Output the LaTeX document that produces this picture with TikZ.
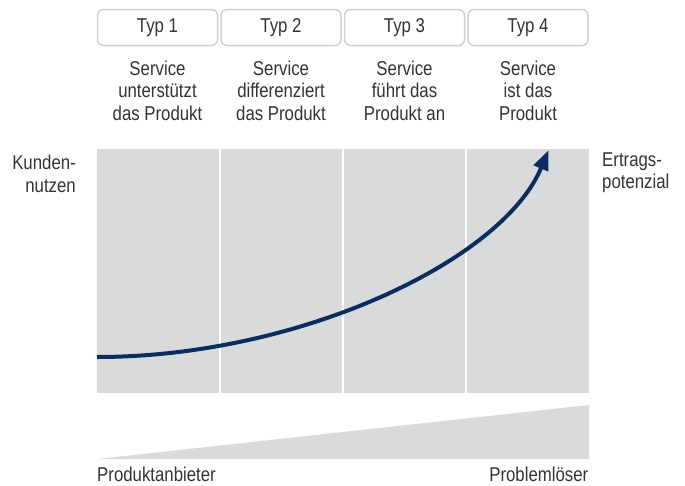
\documentclass[tikz,border=0pt]{standalone}
\usepackage{fontspec}
\setmainfont{Liberation Sans}[FakeStretch=0.84]
\usetikzlibrary{arrows.meta}
\definecolor{panelgray}{HTML}{D9DADC}
\definecolor{boxline}{HTML}{D0D0D0}
\definecolor{navy}{HTML}{0B2D5E}
\definecolor{txt}{HTML}{333333}
\tikzset{
  every node/.style={text=txt, font=\fontsize{20}{22.5}\selectfont, inner sep=0pt},
  typbox/.style={draw=boxline, line width=1.5pt, rounded corners=6pt,
    minimum width=120pt, minimum height=36pt, fill=white},
  desc/.style={align=center},
  divider/.style={white, line width=2.4pt},
  growth/.style={navy, line width=4pt, -{Triangle[length=20pt,width=15pt]}}
}
\begin{document}
\begin{tikzpicture}[x=1pt, y=-1pt]
  \useasboundingbox (0,0) rectangle (685,485);

  % shaded panel with four columns
  \fill[panelgray] (97,149) rectangle (589,393);
  \foreach \x in {220,343,466}
    \draw[divider] (\x,149) -- (\x,393);

  % rising wedge below the panel
  \fill[panelgray] (97,459) -- (589,405) -- (589,459) -- cycle;

  % type headers
  \node[typbox] (t1) at (157.5,27.5) {Typ 1};
  \node[typbox] (t2) at (281,27.5)   {Typ 2};
  \node[typbox] (t3) at (404.5,27.5) {Typ 3};
  \node[typbox] (t4) at (528,27.5)   {Typ 4};

  % descriptions
  \node[desc] (d1) at (157.5,90.5) {Service\\unterstützt\\das Produkt};
  \node[desc] (d2) at (281,90.5)   {Service\\differenziert\\das Produkt};
  \node[desc] (d3) at (404.5,90.5) {Service\\führt das\\Produkt an};
  \node[desc] (d4) at (528,90.5)   {Service\\ist das\\Produkt};

  % axis labels
  \node[align=right, anchor=east] (kn) at (76,174) {Kunden-\\nutzen};
  \node[align=left, anchor=west] (ep) at (602,172.5) {Ertrags-\\potenzial};
  \node[anchor=base west] (pa) at (97,481.5) {Produktanbieter};
  \node[anchor=base east] (pl) at (588.5,481.5) {Problemlöser};

  % growth curve
  \coordinate (cs) at (97,357);
  \coordinate (ce) at (548.5,150);
  \draw[growth] (cs) .. controls (300,357) and (503,260) .. (ce);
\end{tikzpicture}
\end{document}
